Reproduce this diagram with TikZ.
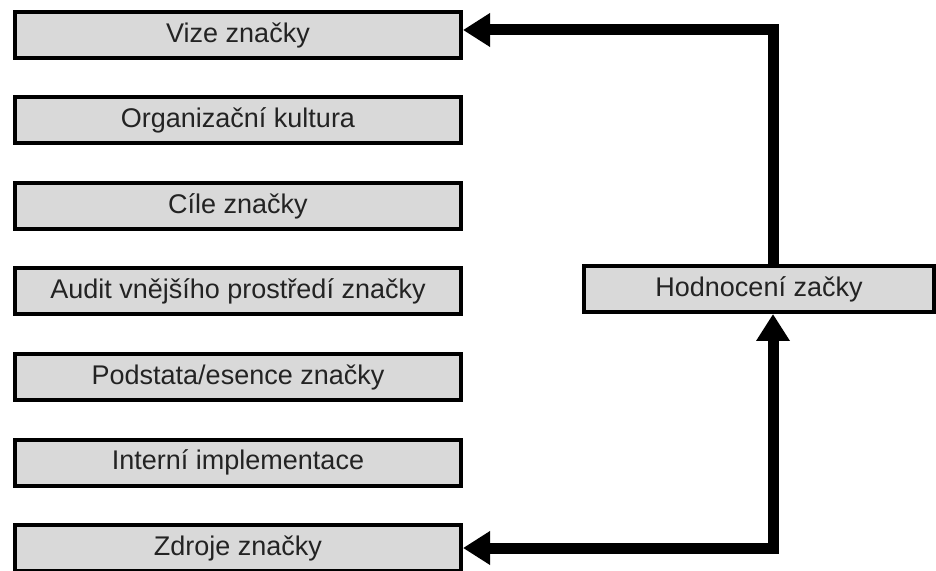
\documentclass[tikz,border=0pt]{standalone}
\usepackage{fontspec}
\setmainfont{Liberation Sans}
\usepackage{tikz}
\usetikzlibrary{positioning,arrows.meta,calc}
\definecolor{boxgray}{RGB}{217,217,217}
\definecolor{textgray}{RGB}{35,35,35}

\begin{document}
\begin{tikzpicture}[x=0.5pt,y=-0.5pt,
  stagebox/.style={draw=black, fill=boxgray, line width=2pt, text=textgray,
    minimum width=223pt, minimum height=23pt, inner sep=0pt,
    font=\fontsize{13.5}{16}\selectfont},
  evalbox/.style={stagebox, minimum width=175pt},
  flow/.style={line width=5.5pt, line join=miter,
    arrows={-Triangle[length=13.5pt,width=16pt]}}]
\useasboundingbox (0,0) rectangle (936,571);
% Row spacing of the left column (in px)
\def\rowgap{85.5}

% Left column: stages of the brand
\node[stagebox] (vize)     at (238,35)           {Vize značky};
\node[stagebox] (kultura)  at (238,35+\rowgap)   {Organizační kultura};
\node[stagebox] (cile)     at (238,35+2*\rowgap) {Cíle značky};
\node[stagebox] (audit)    at (238,35+3*\rowgap) {Audit vnějšího prostředí značky};
\node[stagebox] (podstata) at (238,35+4*\rowgap) {Podstata/esence značky};
\node[stagebox] (interni)  at (238,35+5*\rowgap) {Interní implementace};
\node[stagebox] (zdroje)   at (238,35+6*\rowgap) {Zdroje značky};

% Right: evaluation box
\node[evalbox] (hodnoceni) at (759,289) {Hodnocení začky};

% Feedback loop
\coordinate (loop) at (773,0);
\draw[flow] (hodnoceni.north -| loop) |- ($(vize.east)+(0,-5)$);
\draw[flow, arrows={Triangle[length=13.5pt,width=16pt]-Triangle[length=13.5pt,width=16pt]}]
  (zdroje.east) -| (hodnoceni.south -| loop);
\end{tikzpicture}
\end{document}
